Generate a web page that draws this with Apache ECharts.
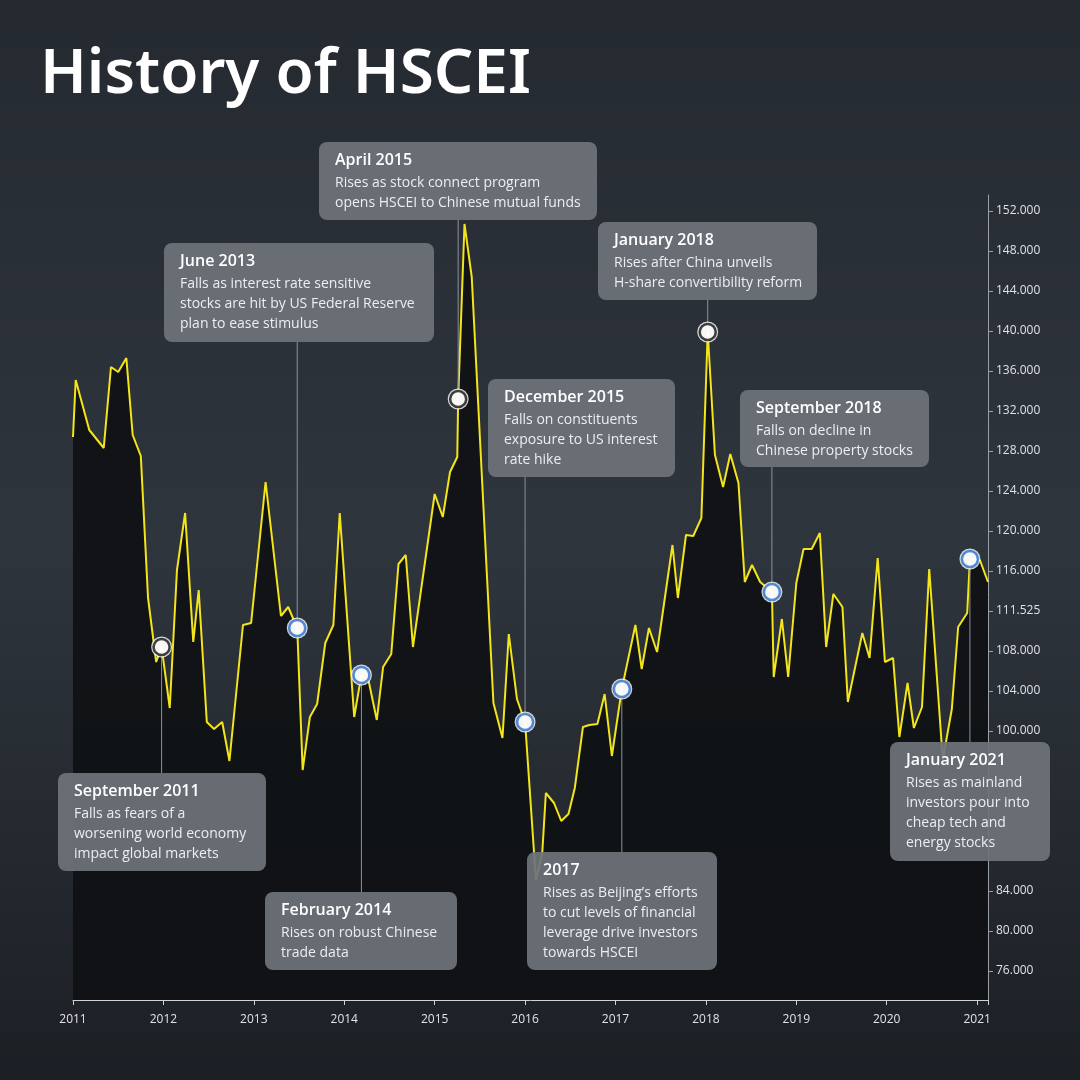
<!DOCTYPE html>
<html><head><meta charset="utf-8">
<script src="https://cdn.jsdelivr.net/npm/echarts@6/dist/echarts.min.js"></script>
<style>html,body{margin:0;padding:0;background:#22262c}#c{width:1080px;height:1080px}</style>
</head><body><div id="c"></div>
<script>
const dates = [2011.00,2011.03,2011.18,2011.34,2011.42,2011.50,2011.59,2011.66,2011.75,2011.83,2011.92,2011.98,2012.07,2012.15,2012.24,2012.33,2012.39,2012.48,2012.56,2012.65,2012.73,2012.88,2012.97,2013.13,2013.30,2013.38,2013.48,2013.54,2013.62,2013.70,2013.79,2013.88,2013.95,2014.11,2014.19,2014.27,2014.36,2014.43,2014.52,2014.60,2014.68,2014.76,2015.00,2015.09,2015.17,2015.25,2015.26,2015.33,2015.41,2015.65,2015.75,2015.82,2015.91,2016.00,2016.12,2016.19,2016.23,2016.32,2016.40,2016.48,2016.55,2016.64,2016.71,2016.80,2016.88,2016.96,2017.07,2017.22,2017.29,2017.37,2017.46,2017.63,2017.69,2017.78,2017.86,2017.95,2018.02,2018.10,2018.19,2018.27,2018.36,2018.43,2018.51,2018.60,2018.73,2018.75,2018.84,2018.91,2019.00,2019.08,2019.17,2019.26,2019.33,2019.41,2019.51,2019.57,2019.73,2019.81,2019.90,2019.98,2020.07,2020.14,2020.23,2020.30,2020.39,2020.47,2020.62,2020.72,2020.79,2020.89,2020.92,2021.03,2021.12];
const values = [129.4,135.1,130.1,128.3,136.4,135.9,137.3,129.6,127.5,113.3,106.9,108.4,102.3,116.1,121.8,108.9,114.1,100.9,100.2,100.9,97.0,110.6,110.8,124.9,111.5,112.4,110.3,96.1,101.4,102.7,108.8,110.6,121.8,101.4,105.6,105.0,101.1,106.4,107.7,116.7,117.6,108.4,123.7,121.4,125.9,127.4,133.2,150.7,145.4,102.8,99.3,109.7,103.2,100.9,85.1,87.8,93.8,92.8,91.0,91.7,94.3,100.4,100.6,100.7,103.7,97.5,104.2,110.6,106.2,110.3,107.9,118.6,113.3,119.6,119.5,121.3,139.9,127.6,124.4,127.7,124.8,114.9,116.6,114.9,113.9,105.4,111.2,105.4,114.8,118.2,118.2,119.8,108.4,113.7,112.4,102.9,109.8,107.3,117.3,106.9,107.3,99.4,104.8,100.3,102.4,116.2,97.1,102.2,110.4,111.8,117.2,117.1,114.9];
const yTicks = [76,80,84,100,104,108,112,116,120,124,128,132,136,140,144,148,152];
const yearTicks = [2011,2012,2013,2014,2015,2016,2017,2018,2019,2020,2021];
const eventIdx = [11,26,34,46,53,66,76,84,110];
const eventDark = [true,false,false,true,false,false,true,false,false];
const eventTitles = ['September 2011','June 2013','February 2014','April 2015','December 2015','2017','January 2018','September 2018','January 2021'];
const eventTexts = [
 ['Falls as fears of a','worsening world economy','impact global markets'],
 ['Falls as interest rate sensitive','stocks are hit by US Federal Reserve','plan to ease stimulus'],
 ['Rises on robust Chinese','trade data'],
 ['Rises as stock connect program','opens HSCEI to Chinese mutual funds'],
 ['Falls on constituents','exposure to US interest','rate hike'],
 ['Rises as Beijing\u2019s efforts','to cut levels of financial','leverage drive investors','towards HSCEI'],
 ['Rises after China unveils','H-share convertibility reform'],
 ['Falls on decline in','Chinese property stocks'],
 ['Rises as mainland','investors pour into','cheap tech and','energy stocks']
];
const boxes = [[58,773,208,98],[164,243,270,99],[265,892,192,78],[319,142,278,78],[488,379,187,98],[527,852,190,118],[598,222,219,78],[740,390,189,77],[890,742,160,119]];

const chart = echarts.init(document.getElementById('c'));
const lineData = dates.map((d,i)=>[d,values[i]]);
const evData = eventIdx.map(i=>[dates[i],values[i]]);
chart.setOption({
  backgroundColor: new echarts.graphic.LinearGradient(0,0,0,1,[{offset:0,color:'#252a31'},{offset:0.5,color:'#2f353d'},{offset:1,color:'#1c2025'}]),
  animation:false,
  grid:{left:73,right:92,top:195,bottom:80},
  xAxis:{type:'value',min:2011,max:2021.12,interval:1,
    axisLine:{lineStyle:{color:'#cfd2d6'}},axisTick:{show:true,lineStyle:{color:'#cfd2d6'}},
    splitLine:{show:false},
    axisLabel:{color:'#e0e2e5',fontSize:12,fontFamily:'Open Sans',margin:14,
      formatter:v=>yearTicks.includes(v)?String(v):''}},
  yAxis:{type:'value',position:'right',min:73.1,max:153.6,
    axisLine:{show:true,lineStyle:{color:'#9aa0a6'}},
    axisTick:{show:true,customValues:yTicks,lineStyle:{color:'#9aa0a6'}},
    splitLine:{show:false},
    axisLabel:{customValues:yTicks,color:'#e0e2e5',fontSize:12,fontFamily:'Open Sans',margin:8,
      formatter:v=>v===112?'111.525':v.toFixed(3)}},
  series:[
    {type:'line',data:lineData,symbol:'none',z:2,
     lineStyle:{color:'#f3e41b',width:2},
     areaStyle:{color:'#0f1113',opacity:0.93,origin:'start'}},
    {type:'scatter',data:evData,symbolSize:21,z:4,itemStyle:{color:'#ffffff'}},
    {type:'scatter',z:5,symbolSize:16,
     data:evData.map((d,i)=>({value:d,itemStyle:{color:'#ffffff',borderWidth:2.5,borderColor:eventDark[i]?'#111':'#2a6fd1'}}))}
  ]
});

const g=[];
g.push({type:'text',left:40,top:44,z:10,style:{text:'History of HSCEI',fill:'#ffffff',font:'600 62px "Noto Sans"'}});
eventIdx.forEach((idx,i)=>{
  const p=chart.convertToPixel({gridIndex:0},[dates[idx],values[idx]]);
  const b=boxes[i];
  const yEnd = b[1] > p[1] ? b[1] : b[1]+b[3];
  g.push({type:'line',z:3,shape:{x1:p[0],y1:p[1],x2:p[0],y2:yEnd},style:{stroke:'#8d9298',lineWidth:1}});
  g.push({type:'rect',z:8,shape:{x:b[0],y:b[1],width:b[2],height:b[3],r:8},style:{fill:'rgba(110,115,122,0.93)'}});
  g.push({type:'text',z:9,x:b[0]+16,y:b[1]+10,style:{text:eventTitles[i],fill:'#ffffff',font:'600 16px "Open Sans"'}});
  g.push({type:'text',z:9,x:b[0]+16,y:b[1]+31,style:{text:eventTexts[i].join('\n'),fill:'#eceef0',font:'14px "Open Sans"',lineHeight:20}});
});
chart.setOption({graphic:g});
</script></body></html>
